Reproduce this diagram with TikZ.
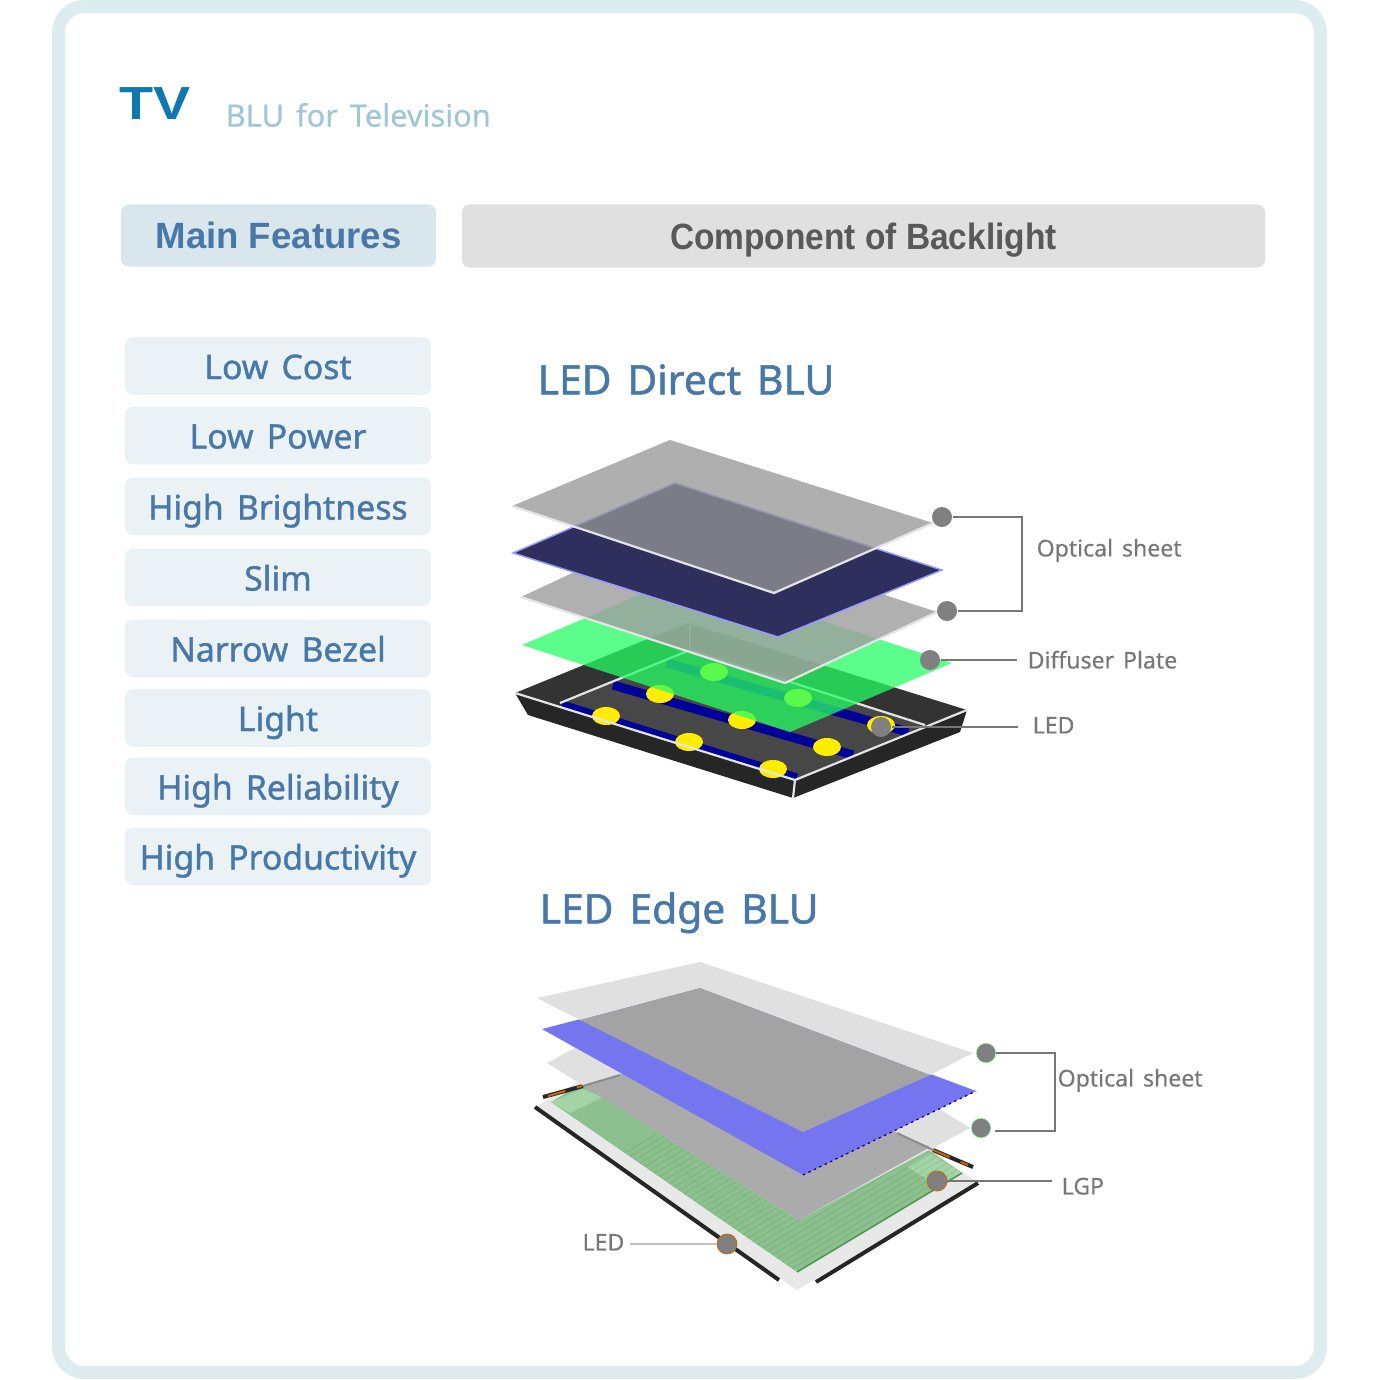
\documentclass[tikz,border=0pt]{standalone}
\usepackage{fontspec}
\setmainfont[WordSpace=1.5,FakeBold=1.2]{Noto Sans}
\newfontfamily\lightfont[WordSpace=1.5,FakeBold=0.4]{Noto Sans}
\newfontfamily\headfont{Liberation Sans}
\newfontfamily\compfont[FakeStretch=0.915]{Liberation Sans}
\newfontfamily\tvfont[FakeStretch=1.2]{Liberation Sans}
\usetikzlibrary{calc,positioning}
\definecolor{frameblue}{HTML}{DCECEF}
\definecolor{headblue}{HTML}{D9E7ED}
\definecolor{featblue}{HTML}{EBF2F5}
\definecolor{textblue}{HTML}{4778A8}
\definecolor{tvblue}{HTML}{1078B0}
\definecolor{subblue}{HTML}{9FC6D6}
\definecolor{linegray}{HTML}{777777}
\definecolor{dotgray}{HTML}{808080}
\definecolor{lgpgreen}{HTML}{8CC08E}
\definecolor{lgplight}{HTML}{A3D4A5}
\definecolor{rimwhite}{HTML}{E4E4E4}
\tikzset{
    headbox/.style={rounded corners=0.08cm, inner sep=0pt, minimum height=0.62cm, text height=8pt, text depth=0.6pt},
    featbox/.style={rounded corners=0.08cm, fill=featblue, inner sep=0pt, minimum width=3.06cm, minimum height=0.575cm, text=textblue, text height=8pt, text depth=0.6pt, font=\fontsize{9.6}{11}\selectfont},
    title/.style={inner sep=0pt, anchor=west, text=textblue, text height=9.2pt, text depth=1pt, font=\fontsize{11.6}{13}\selectfont},
    partlabel/.style={inner sep=0pt, anchor=west, text=linegray, text height=5.2pt, text depth=0.4pt, font=\lightfont\fontsize{6.55}{8}\selectfont},
    dot/.style={circle, fill=dotgray, inner sep=0pt, minimum size=0.2cm},
    leader/.style={draw=linegray, line width=0.02cm},
    led/.style={fill=yellow!95!orange},
    rim/.style={draw=rimwhite, line width=0.022cm},
}
\begin{document}
\begin{tikzpicture}[x=0.01cm,y=-0.01cm]
    \useasboundingbox (0,0) rectangle (1380,1379);
    \fill[white] (0,0) rectangle (1380,1379);
    \draw[frameblue, line width=0.13cm, rounded corners=0.26cm] (58.5,6.5) rectangle (1320.5,1372.5);

    \node[inner sep=0pt, anchor=west, text=tvblue, font=\tvfont\bfseries\fontsize{13.2}{15}\selectfont] (tv) at (119,104) {TV};
    \node[inner sep=0pt, anchor=west, text=subblue, font=\lightfont\fontsize{8.75}{10}\selectfont] (sub) at (225,115) {BLU for Television};

    \node[headbox, fill=headblue, text=textblue, minimum width=3.15cm, font=\headfont\bfseries\fontsize{10.4}{12}\selectfont] (main) at (278.5,235.5) {Main Features};
    \node[headbox, fill=black!12, text=black!65, minimum width=8.03cm, minimum height=0.63cm, font=\compfont\bfseries\fontsize{10.4}{12}\selectfont] (comp) at (863.5,236) {Component of Backlight};

    \node[featbox] (f_1) at (278,366) {Low Cost};
    \node[featbox] (f_2) at (278,435.5) {Low Power};
    \node[featbox] (f_3) at (278,506.5) {High Brightness};
    \node[featbox] (f_4) at (278,577.5) {Slim};
    \node[featbox] (f_5) at (278,648.5) {Narrow Bezel};
    \node[featbox] (f_6) at (278,718) {Light};
    \node[featbox] (f_7) at (278,786.5) {High Reliability};
    \node[featbox] (f_8) at (278,856.5) {High Productivity};

    \node[title] (direct) at (537,380) {LED Direct BLU};
    \node[title] (edge) at (539,909) {LED Edge BLU};

    % direct type: tray
    \fill[black!85] (515,693) -- (528,715) -- (793,798) -- (960,732) -- (967,710) -- (795,780) -- cycle;
    \fill[black!80] (515,693) -- (687,623) -- (967,710) -- (795,780) -- cycle;
    \fill[black!72] (560,703) -- (690,650) -- (925,725) -- (795,780) -- cycle;
    \draw[blue!60!black, line width=0.07cm] (562,704) -- (797,777);
    \draw[blue!60!black, line width=0.09cm] (613,685) -- (853,755);
    \draw[blue!60!black, line width=0.09cm] (667,663) -- (908,732);
    \foreach \cx/\cy in {606/716,689/742,773/769,660/694,742/720,827/747,714/672,798/698,881/725}
        \fill[led] (\cx,\cy) ellipse (0.14cm and 0.09cm);
    \draw[rim] (515,693) -- (795,780) -- (967,710);
    \draw[rim] (795,780) -- (793,798);
    \draw[rim] (560,703) -- (690,650) -- (925,725);
    \draw[rim] (690,621) -- (690,650);

    % direct type: plate and sheets
    \fill[fill={rgb,255:red,37;green,254;blue,99}, fill opacity=0.75] (522,645) -- (684,576) -- (952,663) -- (790,732) -- cycle;
    \fill[fill={rgb,255:red,159;green,159;blue,159}, fill opacity=0.82] (521,597) -- (673,526) -- (937,612) -- (785,683) -- cycle;
    \draw[rim] (521,597) -- (785,683) -- (937,612);
    \filldraw[fill={rgb,255:red,47;green,47;blue,94}, draw=blue!40!white, line width=0.015cm] (513,553) -- (675,483) -- (942,570) -- (778,637) -- cycle;
    \fill[fill={rgb,255:red,150;green,150;blue,150}, fill opacity=0.755] (512,506) -- (670,440) -- (933,523) -- (774,593) -- cycle;
    \draw[rim] (512,506) -- (774,593) -- (933,523);

    % edge type: base, LED bars, LGP
    \fill[black!9] (535,1107) -- (716,1000) -- (978,1183) -- (797,1290) -- cycle;
    \draw[black!85, line width=0.04cm] (535,1107) -- (779,1280);
    \draw[black!85, line width=0.04cm] (816,1282) -- (978,1183);
    \fill[lgpgreen] (551,1102) -- (716,1003) -- (962,1173) -- (797,1272) -- cycle;
    \fill[lgplight] (551,1102) -- (582,1089) -- (603,1097) -- (570,1113) -- cycle;
    \fill[lgplight] (907,1167) -- (930,1153) -- (962,1173) -- (937,1185) -- cycle;
    \foreach \s in {0.30,0.32,...,0.99}
        \draw[green!35!black, opacity=0.14, line width=0.006cm] ($(551,1102)!\s!(797,1272)$) -- ($(716,1003)!\s!(962,1173)$);
    \draw[green!40!black!70, line width=0.015cm] (797,1272) -- (962,1173);
    \draw[black!85, line width=0.04cm] (543,1097) -- (583,1086);
    \draw[orange!80!black, line width=0.02cm, dash pattern=on 0.18cm off 0.12cm] (548,1096) -- (582,1086);
    \draw[black!85, line width=0.04cm] (933,1150) -- (973,1167);
    \draw[orange!80!black, line width=0.02cm, dash pattern=on 0.18cm off 0.12cm] (933,1150) -- (968,1165);

    % edge type: sheets
    \fill[black!12] (547,1063) -- (718,971) -- (970,1128) -- (799,1220) -- cycle;
    \fill[black!33] (583,1086) -- (620,1075) -- (718,1003) -- (897,1133) -- (930,1147) -- (799,1220) -- cycle;
    \draw[black!45, line width=0.02cm] (583,1086) -- (620,1075);
    \draw[black!45, line width=0.02cm] (897,1133) -- (933,1150);
    \fill[fill={rgb,255:red,117;green,117;blue,240}] (542,1029) -- (700,988) -- (976,1091) -- (803,1175) -- cycle;
    \draw[blue!50!black, line width=0.012cm, dash pattern=on 0.025cm off 0.035cm] (803,1175) -- (976,1091);
    \fill[black!12] (537,998) -- (700,962) -- (973,1053) -- (930,1075) -- (700,988) -- (580,1020) -- cycle;
    \fill[black!36] (580,1020) -- (700,988) -- (930,1075) -- (803,1132) -- cycle;

    % callouts
    \node[dot] (d_1) at (942,517) {};
    \node[dot] (d_2) at (947,611) {};
    \node[dot] (d_3) at (930,660) {};
    \node[dot] (d_4) at (881,727) {};
    \node[partlabel] (l_1) at (1036,548) {Optical sheet};
    \node[partlabel] (l_2) at (1027,660) {Diffuser Plate};
    \node[partlabel] (l_3) at (1032,725) {LED};
    \coordinate (b_1) at (1022,517);
    \coordinate (b_2) at (1022,611);
    \coordinate (e_2) at (1017,660);
    \coordinate (e_3) at (1018,727);
    \draw[leader] (d_1) -- (b_1) -- (b_2) -- (d_2);
    \draw[leader] (d_3) -- (e_2);
    \draw[leader] (d_4) -- (e_3);

    \node[dot, draw=green!25!white, line width=0.008cm] (d_5) at (986,1053) {};
    \node[dot, draw=green!25!white, line width=0.008cm] (d_6) at (981,1128) {};
    \node[dot, draw=orange!80!black, line width=0.008cm] (d_7) at (937,1181) {};
    \node[dot, draw=orange!80!black, line width=0.008cm] (d_8) at (727,1244) {};
    \node[partlabel] (l_4) at (1057,1078) {Optical sheet};
    \node[partlabel] (l_5) at (1061,1186) {LGP};
    \node[partlabel, anchor=east] (l_6) at (625,1242) {LED};
    \coordinate (b_3) at (1055,1053);
    \coordinate (b_4) at (1055,1131);
    \coordinate (b_5) at (995,1131);
    \coordinate (e_5) at (1052,1181);
    \coordinate (e_6) at (630,1244);
    \draw[leader] (d_5) -- (b_3) -- (b_4) -- (b_5);
    \draw[leader] (d_7) -- (e_5);
    \draw[leader, black!25] (d_8) -- (e_6);
\end{tikzpicture}
\end{document}
